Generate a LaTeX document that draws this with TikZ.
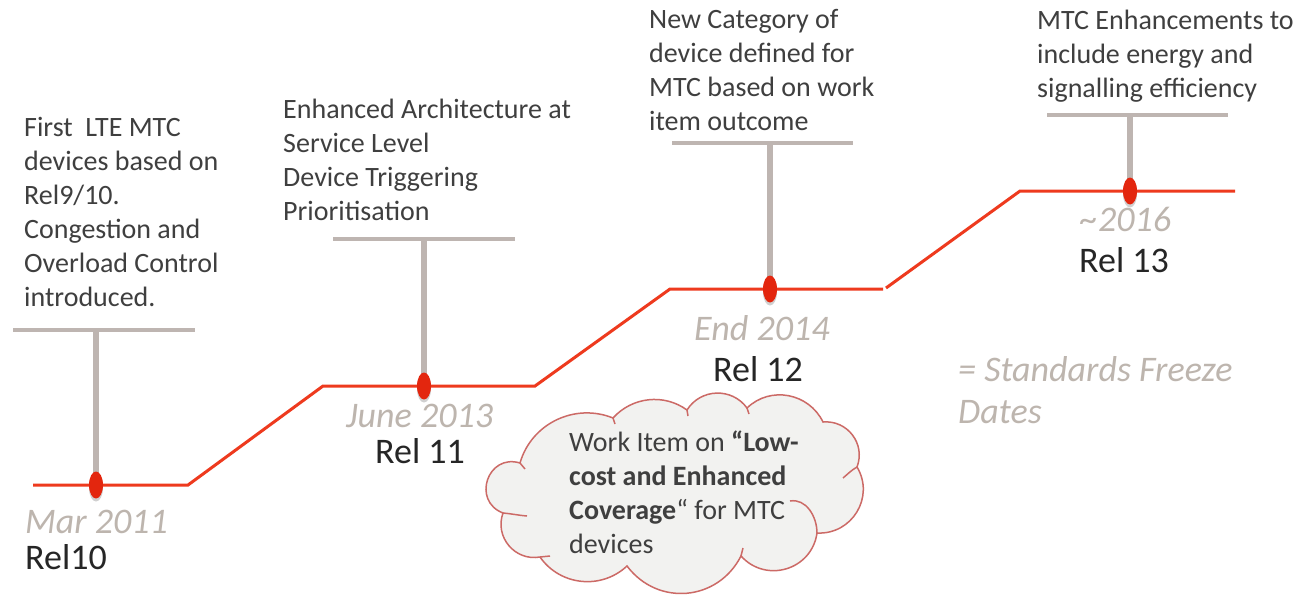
\documentclass[tikz,border=0pt]{standalone}
\usepackage{fontspec}
\setmainfont{Carlito}
\usetikzlibrary{shapes.geometric,shadows}
\definecolor{txt}{HTML}{3F3F3F}
\definecolor{datec}{HTML}{BDB5AE}
\definecolor{relc}{HTML}{262626}
\definecolor{tline}{HTML}{EE3A1E}
\definecolor{tdot}{HTML}{E3260E}
\definecolor{stemc}{HTML}{BEB5B1}
\definecolor{cloudfill}{HTML}{F2F2F0}
\definecolor{cloudline}{HTML}{CC6A66}
\begin{document}
\begin{tikzpicture}[x=1pt,y=-1pt,
  body/.style={anchor=north west, inner sep=0pt, align=left, text=txt,
    font=\fontsize{28}{34}\selectfont},
  datelbl/.style={anchor=base west, inner sep=0pt, text=datec,
    font=\fontsize{36}{42}\selectfont\itshape},
  rellbl/.style={anchor=base, inner sep=0pt, text=relc,
    font=\fontsize{36}{42}\selectfont},
  stembar/.style={draw=stemc, line width=3.5pt},
  stempost/.style={draw=stemc, line width=6pt},
  tl/.style={draw=tline, line width=3pt},
  freeze/.style={ellipse, fill=tdot, minimum width=14pt, minimum height=27pt,
    inner sep=0pt, drop shadow={shadow xshift=0pt, shadow yshift=-3pt,
    opacity=0.3, fill=black!60}},
  puffline/.style={draw=cloudline, line width=1.5pt}
]
\fill[white] (0,0) rectangle (1303,595);
\useasboundingbox (0,0) rectangle (1303,595);

% milestone positions on the timeline
\coordinate (p1) at (96,485);
\coordinate (p2) at (424,386);
\coordinate (p3) at (770,289);
\coordinate (p4) at (1130,191);

% stems: horizontal bar under each description, post down to the milestone
\coordinate (s1) at (96,330);
\coordinate (s2) at (424,239);
\coordinate (s3) at (770,143);
\coordinate (s4) at (1130,115);
\draw[stembar] (13,330) -- (195,330);
\draw[stembar] (333,239) -- (515,239);
\draw[stembar] (672,143) -- (853,143);
\draw[stembar] (1047,115) -- (1228,115);
\draw[stempost] (s1) -- (p1);
\draw[stempost] (s2) -- (p2);
\draw[stempost] (s3) -- (p3);
\draw[stempost] (s4) -- (p4);

% stepped timeline
\draw[tl] (33,485) -- (188,485) -- (323,386) -- (535,386) -- (670,289) -- (883,289);
\draw[tl] (886,288) -- (1020,191) -- (1235,191);

% freeze-date markers
\node[freeze] (d1) at (p1) {};
\node[freeze] (d2) at (p2) {};
\node[freeze] (d3) at (p3) {};
\node[freeze] (d4) at (p4) {};

% descriptions
\node[body] (t1) at (24,117) {First\ \ LTE MTC\\devices based on\\Rel9/10.\\Congestion and\\Overload Control\\introduced.};
\node[body] (t2) at (283,99) {Enhanced Architecture at\\Service Level\\Device Triggering\\Prioritisation};
\node[body] (t3) at (649,9) {New Category of\\device defined for\\MTC based on work\\item outcome};
\node[body] (t4) at (1037,10) {MTC Enhancements to\\include energy and\\signalling efficiency};

% dates and releases
\node[datelbl] (m1) at (25,533) {Mar 2011};
\node[rellbl, anchor=base west] (r1) at (25,569) {Rel10};
\node[datelbl] (m2) at (346,427) {June 2013};
\node[rellbl] (r2) at (420,463) {Rel 11};
\node[datelbl] (m3) at (694,340) {End 2014};
\node[rellbl] (r3) at (758,381) {Rel 12};
\node[datelbl] (m4) at (1080,231) {\char"007E 2016};
\node[rellbl] (r4) at (1124,272) {Rel 13};

% legend
\node[datelbl] (lg1) at (958,381) {= Standards Freeze};
\node[datelbl] (lg2) at (958,423) {Dates};

% work item cloud: puffs between the cusps c1..c11
\coordinate (c1) at (520,463);
\coordinate (c2) at (613,418);
\coordinate (c3) at (687,410);
\coordinate (c4) at (747,408);
\coordinate (c5) at (823,422);
\coordinate (c6) at (857,467);
\coordinate (c7) at (817,533);
\coordinate (c8) at (741,556);
\coordinate (c9) at (627,566);
\coordinate (c10) at (540,557);
\coordinate (c11) at (503,513);
\path[puffline, fill=cloudfill]
  (c1) to[out=74,in=158,looseness=1.02] (c2)
       to[out=48,in=144,looseness=0.98] (c3)
       to[out=58,in=126,looseness=1.09] (c4)
       to[out=44,in=116,looseness=1.07] (c5)
       to[out=5,in=69,looseness=1.12] (c6)
       to[out=-59,in=-3,looseness=1.16] (c7)
       to[out=-98,in=-48,looseness=1.2] (c8)
       to[out=-117,in=-53,looseness=1.14] (c9)
       to[out=-137,in=-55,looseness=1.03] (c10)
       to[out=-170,in=-110,looseness=1.13] (c11)
       to[out=159,in=163,looseness=1.64] cycle;
% inner creases of the cloud
\draw[puffline] (c1) -- (525,469);
\draw[puffline] (c2) -- (615,424);
\draw[puffline] (c3) -- (688,416);
\draw[puffline] (c4) -- (749,414);
\draw[puffline] (c6) to[out=-150,in=40] (843,478);
\draw[puffline] (790,501) to[out=10,in=90] (c7);
\draw[puffline] (c8) -- (743,548);
\draw[puffline] (c10) -- (550,556);
\draw[puffline] (c11) to[out=-5,in=175] (527,516);

\node[body] (wit) at (569,431) {Work Item on \textbf{“Low-}\\\textbf{cost and Enhanced}\\\textbf{Coverage}“ for MTC\\devices};
\end{tikzpicture}
\end{document}
